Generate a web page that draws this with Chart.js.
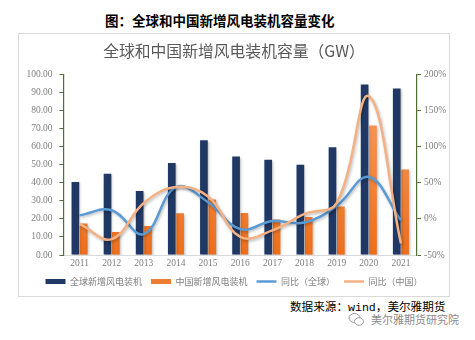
<!DOCTYPE html>
<html>
<head>
<meta charset="utf-8">
<script src="https://cdn.jsdelivr.net/npm/chart.js@4"></script>
<style>
  body { margin: 0; background: #fff; width: 475px; height: 340px; position: relative; overflow: hidden; }
  .head { position: absolute; left: 105px; top: 10px; font: bold 13.5px "Noto Sans CJK SC"; color: #000; white-space: nowrap; }
  .box { position: absolute; left: 18px; top: 33px; width: 432px; height: 264px; box-sizing: border-box; border: 1px solid #d9d9d9; }
  .box canvas { display: block; }
  .src { position: absolute; left: 290px; top: 298px; font: 11.6px "Noto Sans CJK SC"; color: #000; white-space: nowrap; }
  .src span { font-family: "Liberation Mono"; }
  .mark { position: absolute; left: 348px; top: 311px; font: 11px "Noto Sans CJK SC"; color: #8c8c8c; white-space: nowrap; }
  .mark svg { vertical-align: -3px; margin-right: 6px; }
</style>
</head>
<body>
<div class="head">图：全球和中国新增风电装机容量变化</div>
<div class="box"><canvas id="windChart" width="430" height="262"></canvas></div>
<div class="src">数据来源：<span>wind</span>，美尔雅期货</div>
<div class="mark"><svg width="17" height="15" viewBox="0 0 17 15"><ellipse cx="6.5" cy="6" rx="5.5" ry="4.5" fill="none" stroke="#999" stroke-width="1"/><ellipse cx="11" cy="9.5" rx="4.5" ry="3.8" fill="#fff" stroke="#999" stroke-width="1"/></svg>美尔雅期货研究院</div>

<script>
const years = ['2011', '2012', '2013', '2014', '2015', '2016', '2017', '2018', '2019', '2020', '2021'];
// new installed capacity, GW
const globalNew = [40.5, 45.0, 35.5, 51.0, 63.5, 54.5, 52.7, 50.0, 59.7, 94.5, 92.2];
const chinaNew = [17.5, 12.8, 16.0, 23.1, 30.8, 23.2, 19.7, 21.1, 26.8, 71.7, 47.4];
// year-on-year change, %
const globalYoY = [5, 12, -21, 44, 23, -14, -3, -5, 18, 58, -2];
const chinaYoY = [-7, -28, 22, 44, 31, -25, -16, 7, 22, 170, -34];

const navy = '#203864';
const orange = '#ED7D31';
const blueLine = '#5B9BD5';
const peachLine = '#F4B183';
const axisGreen = '#4f6f30';
const tickGrey = '#808080';

function orangeFill(ctx) {
  const area = ctx.chart.chartArea;
  if (!area) return orange;
  const g = ctx.chart.ctx.createLinearGradient(0, area.bottom, 0, area.top);
  g.addColorStop(0, '#EC6E1C');
  g.addColorStop(1, '#F5A46C');
  return g;
}

// soft drop shadow under bars and lines
const shadowPlugin = {
  id: 'markShadow',
  beforeDatasetDraw(chart) {
    const c = chart.ctx;
    c.save();
    c.shadowColor = 'rgba(0,0,0,0.28)';
    c.shadowBlur = 3;
    c.shadowOffsetX = 1;
    c.shadowOffsetY = 1.5;
  },
  afterDatasetDraw(chart) {
    chart.ctx.restore();
  }
};

const ctx = document.getElementById('windChart').getContext('2d');
new Chart(ctx, {
  data: {
    labels: years,
    datasets: [
      {
        type: 'bar',
        label: '全球新增风电装机',
        data: globalNew,
        backgroundColor: navy,
        yAxisID: 'y',
        order: 2,
        categoryPercentage: 0.52,
        barPercentage: 0.92
      },
      {
        type: 'bar',
        label: '中国新增风电装机',
        data: chinaNew,
        backgroundColor: orangeFill,
        yAxisID: 'y',
        order: 2,
        categoryPercentage: 0.52,
        barPercentage: 0.92
      },
      {
        type: 'line',
        label: '同比（全球）',
        data: globalYoY,
        borderColor: blueLine,
        borderWidth: 2.5,
        pointRadius: 0,
        tension: 0.4,
        yAxisID: 'y1',
        order: 1
      },
      {
        type: 'line',
        label: '同比（中国）',
        data: chinaYoY,
        borderColor: peachLine,
        borderWidth: 2.5,
        pointRadius: 0,
        tension: 0.4,
        yAxisID: 'y1',
        order: 0
      }
    ]
  },
  options: {
    responsive: false,
    animation: false,
    layout: { padding: 0 },
    plugins: {
      tooltip: { enabled: false },
      title: {
        display: true,
        text: '全球和中国新增风电装机容量（GW）',
        color: '#595959',
        font: { family: 'Noto Sans CJK SC', size: 15.8, weight: 'normal', lineHeight: 1.2 },
        padding: { top: 8, bottom: 13.5 }
      },
      legend: {
        position: 'bottom',
        labels: {
          usePointStyle: true,
          pointStyleWidth: 20,
          boxHeight: 5,
          padding: 9,
          color: tickGrey,
          font: { family: 'Noto Sans CJK SC', size: 9 },
          generateLabels(chart) {
            return chart.data.datasets.map((ds, i) => {
              const isLine = ds.type === 'line';
              const col = isLine ? ds.borderColor : (i === 0 ? navy : orange);
              return {
                text: ds.label,
                datasetIndex: i,
                fillStyle: col,
                strokeStyle: col,
                lineWidth: isLine ? 2.5 : 0,
                pointStyle: isLine ? 'line' : 'rect',
                fontColor: tickGrey,
                hidden: false
              };
            });
          }
        }
      }
    },
    scales: {
      x: {
        grid: { display: false, drawTicks: false },
        border: { color: '#d9d9d9', width: 1 },
        ticks: { color: tickGrey, padding: 3, font: { family: 'Liberation Serif', size: 9.5 } },
        afterFit(scale) { scale.height = 13; }
      },
      y: {
        position: 'left',
        min: 0,
        max: 100,
        grid: { drawOnChartArea: false, color: axisGreen, tickLength: 4 },
        border: { color: axisGreen, width: 1.2 },
        ticks: {
          stepSize: 10,
          color: tickGrey,
          padding: 7,
          font: { family: 'Liberation Serif', size: 9.5 },
          callback: v => v.toFixed(2)
        },
        afterFit(scale) { scale.width = 44.5; }
      },
      y1: {
        position: 'right',
        min: -50,
        max: 200,
        grid: { drawOnChartArea: false, color: axisGreen, tickLength: 4 },
        border: { color: axisGreen, width: 1.2 },
        ticks: {
          stepSize: 50,
          color: tickGrey,
          padding: 3,
          font: { family: 'Liberation Serif', size: 9.5 },
          callback: v => v + '%'
        },
        afterFit(scale) { scale.width = 32; }
      }
    }
  },
  plugins: [shadowPlugin]
});
</script>
</body>
</html>
